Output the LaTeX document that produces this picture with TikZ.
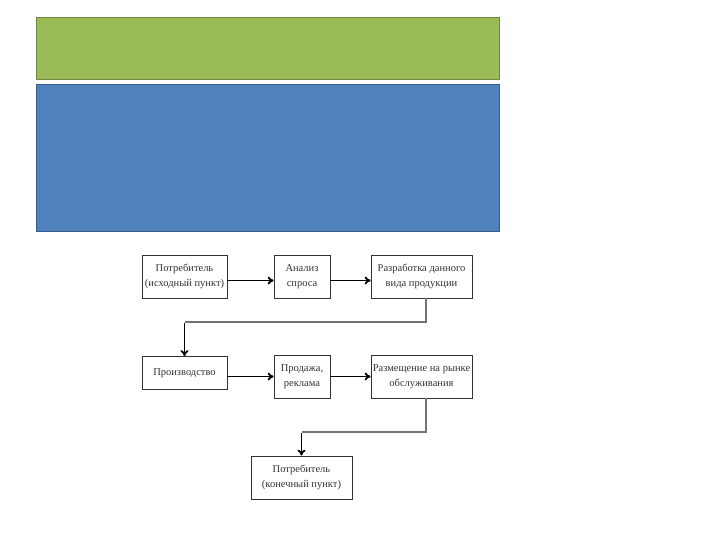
\documentclass[tikz,border=0pt]{standalone}
\usepackage{fontspec}
\setmainfont{Liberation Serif}
\usetikzlibrary{arrows.meta,positioning}
\definecolor{barGreen}{HTML}{9BBB59}
\definecolor{barGreenLine}{HTML}{71893F}
\definecolor{barBlue}{HTML}{4F81BD}
\definecolor{barBlueLine}{HTML}{385D8A}
\tikzset{
	banner/.style={draw, line width=1.2pt, anchor=north west},
	stage/.style={draw=black!80, line width=0.8pt, align=center, inner sep=1pt, font=\fontsize{10.5}{15}\selectfont, text=black!80, minimum height=43pt},
	flow/.style={-{To[length=6pt,width=8pt]}, line width=1.8pt},
	link/.style={line width=1.8pt, draw=black!55}
}

\begin{document}
\begin{tikzpicture}[x=1pt, y=-1pt]
	\useasboundingbox (0,0) rectangle (720,540);
	% header bars
	\node[banner, fill=barGreen, draw=barGreenLine, minimum width=463pt, minimum height=62pt] (head) at (36,17) {};
	\node[banner, fill=barBlue, draw=barBlueLine, minimum width=463pt, minimum height=147pt] (body) at (36,84) {};
	% first row
	\node[stage, minimum width=85pt] (start) at (184.5,276.5) {Потребитель\\(исходный пункт)};
	\node[stage, minimum width=56pt] (demand) at (302,276.5) {Анализ\\спроса};
	\node[stage, minimum width=101pt] (design) at (421.5,276.5) {Разработка данного\\вида продукции};
	% second row
	\node[stage, minimum width=85pt, minimum height=33pt] (make) at (184.5,373) {Производство};
	\node[stage, minimum width=56pt] (sales) at (302,376.5) {Продажа,\\реклама};
	\node[stage, minimum width=101pt] (market) at (421.5,376.5) {Размещение на рынке\\обслуживания};
	% last
	\node[stage, minimum width=101pt] (final) at (301.5,477.5) {Потребитель\\(конечный пункт)};
	\coordinate (turn1) at (make.north |- 0,322);
	\coordinate (turn2) at (final.north |- 0,432);
	\draw[flow] ([yshift=-4pt]start.east) -- ([yshift=-4pt]demand.west);
	\draw[flow] ([yshift=-4pt]demand.east) -- ([yshift=-4pt]design.west);
	\draw[flow] (make.east |- sales.west) -- (sales.west);
	\draw[flow] (sales.east) -- (market.west);
	\draw[link] ([xshift=4.5pt]design.south) |- (turn1);
	\draw[flow] ([yshift=-0.9pt]turn1) -- (make.north);
	\draw[link] ([xshift=4.5pt]market.south) |- (turn2);
	\draw[flow] ([yshift=-0.9pt]turn2) -- (final.north);
\end{tikzpicture}
\end{document}
